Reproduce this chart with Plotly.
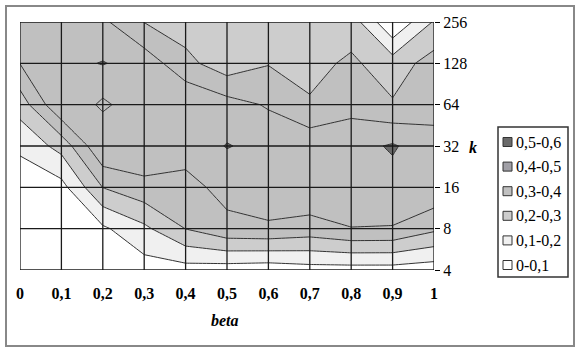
import numpy as np
import plotly.graph_objects as go

# data
beta = [0, 0.1, 0.2, 0.3, 0.4, 0.5, 0.6, 0.7, 0.8, 0.9, 1.0]
k_vals = [4, 8, 16, 32, 64, 128, 256]

# one row per k (4 -> 256), one value per beta
z_k4 = [0.02, 0.03, 0.03, 0.054, 0.06, 0.05, 0.04, 0.06, 0.06, 0.06, 0.044]
z_k8 = [0.02, 0.03, 0.083, 0.178, 0.302, 0.375, 0.385, 0.36, 0.398, 0.395, 0.32]
z_k16 = [0.03, 0.065, 0.302, 0.37, 0.37, 0.43, 0.46, 0.48, 0.45, 0.46, 0.48]
z_k32 = [0.122, 0.235, 0.495, 0.48, 0.44, 0.505, 0.47, 0.47, 0.46, 0.512, 0.43]
z_k64 = [0.244, 0.495, 0.38, 0.47, 0.49, 0.44, 0.39, 0.31, 0.37, 0.31, 0.37]
z_k128 = [0.402, 0.47, 0.505, 0.46, 0.33, 0.24, 0.295, 0.27, 0.317, 0.249, 0.342]
z_k256 = [0.45, 0.46, 0.42, 0.298, 0.25, 0.25, 0.25, 0.26, 0.255, 0.005, 0.21]

band_labels = ["0,5-0,6", "0,4-0,5", "0,3-0,4", "0,2-0,3", "0,1-0,2", "0-0,1"]
band_colors = ["#6a6a6a", "#a09fa6", "#c0c0c0", "#cdcdcd", "#f0f0f0", "#ffffff"]

z = [z_k4, z_k8, z_k16, z_k32, z_k64, z_k128, z_k256]
ypos = list(np.log2(k_vals))

# stepped grey scale, lowest band first
cols = band_colors[::-1]
steps = [0, 0.2, 0.4, 0.6, 0.8, 0.95, 1.0]
cscale = []
for i, c in enumerate(cols):
    cscale.append([steps[i], c])
    cscale.append([steps[i + 1], c])

FONT = "Liberation Serif"

fig = go.Figure()
fig.add_trace(go.Contour(
    x=beta, y=ypos, z=z,
    contours=dict(start=0.1, end=0.5, size=0.1, coloring="fill"),
    line=dict(color="#333333", width=1, smoothing=0),
    colorscale=cscale, showscale=False, hoverinfo="skip"))

# grid on top of the fills
for b in beta:
    fig.add_shape(type="line", x0=b, x1=b, y0=ypos[0], y1=ypos[-1],
                  line=dict(color="#1a1a1a", width=1.3), layer="above")
for yv in ypos:
    fig.add_shape(type="line", x0=beta[0], x1=beta[-1], y0=yv, y1=yv,
                  line=dict(color="#1a1a1a", width=1.3), layer="above")

# pixel -> paper helpers (plot area 20..434 x 22..270)
def px(x):
    return (x - 20) / 414.0

def py(y):
    return (270 - y) / 248.0

# outer chart border
fig.add_shape(type="rect", xref="paper", yref="paper",
              x0=px(6), x1=px(574), y0=py(6), y1=py(346),
              line=dict(color="#888888", width=2))

# legend
fig.add_shape(type="rect", xref="paper", yref="paper",
              x0=px(498), x1=px(568), y0=py(127), y1=py(277),
              line=dict(color="#333333", width=1.5), fillcolor="white")
for i, (lab, col) in enumerate(zip(band_labels, band_colors)):
    yc = 142 + i * 24.6
    fig.add_shape(type="rect", xref="paper", yref="paper",
                  x0=px(503), x1=px(512), y0=py(yc - 4.5), y1=py(yc + 4.5),
                  line=dict(color="#333333", width=1), fillcolor=col)
    fig.add_annotation(xref="paper", yref="paper", x=px(514), y=py(yc),
                       text=lab, showarrow=False, xanchor="left", yanchor="middle",
                       font=dict(family=FONT, size=16, color="black"))

fig.add_annotation(xref="paper", yref="paper", x=px(225), y=py(320),
                   text="<b><i>beta</i></b>", showarrow=False,
                   xanchor="center", yanchor="middle",
                   font=dict(family=FONT, size=16, color="black"))
fig.add_annotation(xref="paper", yref="paper", x=px(473), y=py(147),
                   text="<b><i>k</i></b>", showarrow=False,
                   xanchor="center", yanchor="middle",
                   font=dict(family=FONT, size=16, color="black"))

fig.update_layout(
    width=581, height=352,
    margin=dict(l=20, r=147, t=22, b=82),
    paper_bgcolor="white", plot_bgcolor="white",
    separators=", ",
    showlegend=False,
    xaxis=dict(range=[0, 1], tickmode="array", tickvals=beta,
               showgrid=False, zeroline=False, showline=False,
               ticks="outside", ticklen=9, tickcolor="rgba(0,0,0,0)",
               tickfont=dict(family=FONT, size=16, color="black", weight="bold")),
    yaxis=dict(range=[ypos[0], ypos[-1]], side="right", tickmode="array",
               tickvals=ypos, ticktext=[str(k) for k in k_vals],
               showgrid=False, zeroline=False, showline=False,
               ticks="outside", ticklen=5, tickcolor="black",
               tickfont=dict(family=FONT, size=16, color="black")),
)

fig.write_html("out.html", config={"displayModeBar": False},
               post_script="document.body.style.margin='0px';")
